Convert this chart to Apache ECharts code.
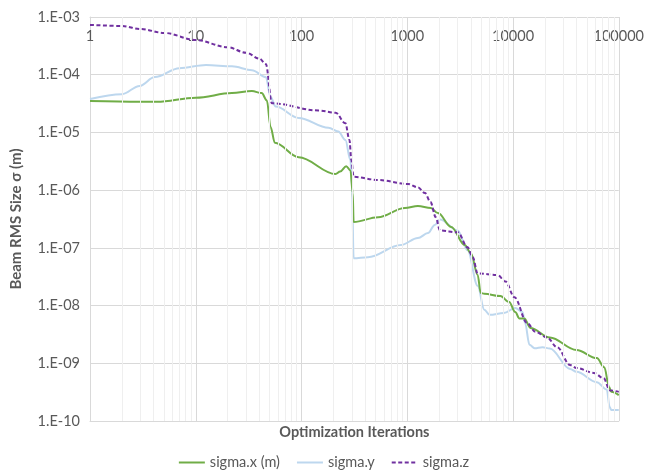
<!DOCTYPE html>
<html><head><meta charset="utf-8">
<script src="https://cdn.jsdelivr.net/npm/echarts@6/dist/echarts.min.js"></script>
<style>html,body{margin:0;padding:0;background:#fff}#c{width:647px;height:474px}</style>
</head><body><div id="c"></div>
<script>
// ---- data ----
const xTickLabels = [1, 10, 100, 1000, 10000, 100000];
const yTickLabels = ['1.E-10','1.E-09','1.E-08','1.E-07','1.E-06','1.E-05','1.E-04','1.E-03'];

const sigmaXIter = [1, 2.95, 4.3, 10, 22, 34, 42, 47, 51, 56, 94, 210, 232, 265, 290, 305, 311, 530, 950, 1260, 1670, 1950, 2600, 3500, 4000, 4630, 4950, 5350, 7600, 9200, 10500, 11500, 12800, 14600, 22300, 39800, 62000, 73000, 81000, 85000, 100000];
const sigmaXVal  = [3.5e-5, 3.4e-5, 3.4e-5, 4.0e-5, 4.8e-5, 5.2e-5, 4.8e-5, 3.6e-5, 1.24e-5, 6.6e-6, 3.7e-6, 1.9e-6, 2.1e-6, 2.6e-6, 2.2e-6, 8.9e-7, 2.8e-7, 3.4e-7, 4.9e-7, 5.3e-7, 4.9e-7, 4.0e-7, 2.3e-7, 1.12e-7, 8.1e-8, 3.4e-8, 1.65e-8, 1.6e-8, 1.46e-8, 1.15e-8, 7.7e-9, 6.0e-9, 6.0e-9, 4.1e-9, 2.8e-9, 1.7e-9, 1.23e-9, 8.5e-10, 3.9e-10, 3.2e-10, 2.8e-10];

const sigmaYIter = [1, 2, 2.95, 4.1, 7, 12.5, 22, 34, 46, 51, 57, 94, 180, 223, 260, 290, 300, 311, 425, 870, 1260, 1570, 1820, 2040, 3000, 3720, 4630, 5350, 6000, 8200, 10500, 12300, 13000, 14300, 16000, 19000, 22300, 34700, 39800, 62000, 77000, 82000, 85000, 100000];
const sigmaYVal  = [3.8e-5, 4.6e-5, 6.4e-5, 9.1e-5, 1.3e-4, 1.47e-4, 1.4e-4, 1.2e-4, 9.1e-5, 4.1e-5, 2.8e-5, 1.78e-5, 1.2e-5, 1.04e-5, 7.4e-6, 3.3e-6, 1.2e-6, 6.6e-8, 6.9e-8, 1.12e-7, 1.48e-7, 1.8e-7, 2.5e-7, 3.1e-7, 2.0e-7, 9.1e-8, 2.2e-8, 8.5e-9, 6.9e-9, 7.4e-9, 9.1e-9, 7.7e-9, 5.0e-9, 2.1e-9, 1.82e-9, 1.9e-9, 1.8e-9, 8.0e-10, 7.1e-10, 4.7e-10, 3.5e-10, 1.74e-10, 1.55e-10, 1.55e-10];

const sigmaZIter = [1, 2, 3, 5, 10, 20, 30, 40, 46, 52.5, 145, 210, 260, 284, 296, 311, 532, 1016, 1260, 1470, 1660, 1860, 2040, 3000, 3720, 4160, 4630, 7130, 8500, 10300, 13600, 16300, 21000, 26100, 34700, 39800, 58200, 72000, 82300, 100000];
const sigmaZVal  = [7.3e-4, 7.0e-4, 6.2e-4, 5.3e-4, 4.0e-4, 3.0e-4, 2.4e-4, 1.9e-4, 1.53e-4, 3.2e-5, 2.4e-5, 2.2e-5, 1.44e-5, 7.4e-6, 3.3e-6, 1.7e-6, 1.5e-6, 1.28e-6, 1.12e-6, 8.9e-7, 6.2e-7, 3.4e-7, 2.0e-7, 1.86e-7, 1.02e-7, 6.9e-8, 3.6e-8, 3.4e-8, 2.6e-8, 1.4e-8, 5.0e-9, 3.5e-9, 2.8e-9, 1.9e-9, 9.3e-10, 8.3e-10, 6.8e-10, 5.5e-10, 3.4e-10, 3.2e-10];

const seriesNames = ['sigma.x (m)', 'sigma.y', 'sigma.z'];

// ---- build ----
const zip = (a, b) => a.map((v, i) => [v, b[i]]);
const FONT = 'Lato';
const TXT = '#595959';

// minor log gridlines (2..9 per decade), axis decoration only
const minorLines = [];
for (let d = 0; d < 5; d++) for (let k = 2; k <= 9; k++) minorLines.push({ xAxis: k * Math.pow(10, d) });
for (let d = -10; d < -3; d++) for (let k = 2; k <= 9; k++) minorLines.push({ yAxis: k * Math.pow(10, d) });

const chart = echarts.init(document.getElementById('c'), null, { renderer: 'canvas' });
chart.setOption({
  animation: false,
  textStyle: { fontFamily: FONT },
  grid: { left: 90, right: 25, top: 17, bottom: 53, containLabel: false },
  legend: {
    top: 450, left: 'center', itemWidth: 26, itemHeight: 12, itemGap: 16,
    itemStyle: { opacity: 0 },
    textStyle: { fontFamily: FONT, fontSize: 14.5, color: TXT },
    data: seriesNames
  },
  xAxis: [{
    type: 'log', logBase: 10, min: 1, max: 100000, position: 'top',
    axisLine: { show: true, lineStyle: { color: '#d9d9d9' } },
    axisTick: { show: false },
    axisLabel: {
      inside: true, margin: 12, color: TXT, fontSize: 14.5, fontFamily: FONT,
      formatter: v => String(Math.round(v))
    },
    splitLine: { show: true, lineStyle: { color: '#d9d9d9', width: 1 } }
  }, {
    type: 'log', logBase: 10, min: 1, max: 100000, position: 'bottom',
    axisLine: { show: true, lineStyle: { color: '#d9d9d9' } },
    axisTick: { show: false }, axisLabel: { show: false }, splitLine: { show: false },
    name: 'Optimization Iterations', nameLocation: 'middle', nameGap: 4,
    nameTextStyle: { fontFamily: FONT, fontSize: 14.5, fontWeight: 'bold', color: TXT }
  }],
  yAxis: {
    type: 'log', logBase: 10, min: 1e-10, max: 1e-3,
    axisLine: { show: true, lineStyle: { color: '#d9d9d9' } },
    axisTick: { show: false },
    axisLabel: {
      margin: 10, color: TXT, fontSize: 14.5, fontFamily: FONT,
      formatter: v => yTickLabels[Math.round(Math.log10(v)) + 10]
    },
    splitLine: { show: true, lineStyle: { color: '#d9d9d9', width: 1 } },
    name: 'Beam RMS Size σ (m)', nameLocation: 'middle', nameGap: 66, nameRotate: 90,
    nameTextStyle: { fontFamily: FONT, fontSize: 15, fontWeight: 'bold', color: TXT }
  },
  series: [
    {
      type: 'line', name: '_grid', data: [], silent: true, z: 1,
      markLine: {
        silent: true, symbol: ['none', 'none'], animation: false,
        label: { show: false },
        lineStyle: { color: '#efefef', type: 'solid', width: 1 },
        emphasis: { disabled: true },
        data: minorLines
      }
    },
    {
      type: 'line', name: seriesNames[0], data: zip(sigmaXIter, sigmaXVal),
      showSymbol: false, symbol: 'none', smooth: 0.35, smoothMonotone: 'x', z: 3,
      lineStyle: { color: '#70AD47', width: 2 }, itemStyle: { color: '#70AD47' }
    },
    {
      type: 'line', name: seriesNames[1], data: zip(sigmaYIter, sigmaYVal),
      showSymbol: false, symbol: 'none', smooth: 0.35, smoothMonotone: 'x', z: 2,
      lineStyle: { color: '#BDD7EE', width: 2 }, itemStyle: { color: '#BDD7EE' }
    },
    {
      type: 'line', name: seriesNames[2], data: zip(sigmaZIter, sigmaZVal),
      showSymbol: false, symbol: 'none', smooth: 0.35, smoothMonotone: 'x', z: 4,
      lineStyle: { color: '#7030A0', width: 2, type: [4, 2.5] }, itemStyle: { color: '#7030A0' }
    }
  ]
});
</script></body></html>
